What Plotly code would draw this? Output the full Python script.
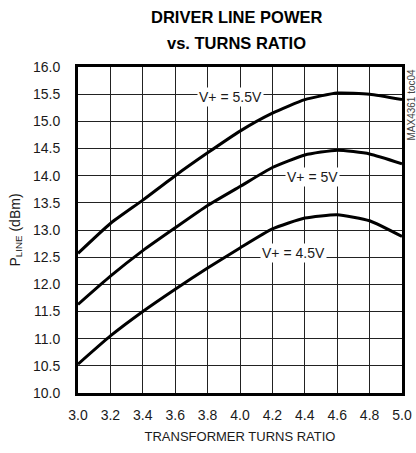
import plotly.graph_objects as go

ratio = [3.0, 3.2, 3.4, 3.6, 3.8, 4.0, 4.2, 4.4, 4.6, 4.8, 5.0]
p_55 = [12.57, 13.12, 13.55, 14.0, 14.42, 14.82, 15.15, 15.40, 15.52, 15.50, 15.40]
p_50 = [11.63, 12.15, 12.62, 13.04, 13.45, 13.80, 14.15, 14.38, 14.47, 14.40, 14.22]
p_45 = [10.53, 11.05, 11.50, 11.91, 12.30, 12.67, 13.02, 13.22, 13.28, 13.17, 12.88]

labels = ["V+ = 5.5V", "V+ = 5V", "V+ = 4.5V"]
label_x = [3.94, 4.45, 4.33]
label_y = [15.45, 13.97, 12.57]

title_lines = ["DRIVER LINE POWER", "vs. TURNS RATIO"]

x_ticks = [3.0, 3.2, 3.4, 3.6, 3.8, 4.0, 4.2, 4.4, 4.6, 4.8, 5.0]
y_ticks = [10.0, 10.5, 11.0, 11.5, 12.0, 12.5, 13.0, 13.5, 14.0, 14.5, 15.0, 15.5, 16.0]

FONT = "Liberation Sans, Arial, sans-serif"
INK = "#1a1a1a"

fig = go.Figure()
for ys in (p_55, p_50, p_45):
    fig.add_trace(go.Scatter(
        x=ratio, y=ys, mode="lines",
        line=dict(color="black", width=3, shape="spline", smoothing=0.5),
        showlegend=False, hoverinfo="skip",
    ))

for txt, lx, ly in zip(labels, label_x, label_y):
    fig.add_annotation(
        x=lx, y=ly, text=txt, showarrow=False,
        font=dict(family=FONT, size=14, color=INK),
        bgcolor="white", borderpad=1,
    )

# two-line bold title above the frame
for i, line in enumerate(title_lines):
    fig.add_annotation(
        x=0.49, xref="paper", y=1, yref="paper",
        text=f"<b>{line}</b>", showarrow=False,
        xanchor="center", yanchor="middle",
        yshift=50 - 26 * i,
        font=dict(family=FONT, size=16.5, color="black"),
    )

fig.add_annotation(
    x=1.0, y=1.0, xref="paper", yref="paper",
    text="MAX4361 toc04", textangle=-90, showarrow=False,
    xanchor="left", yanchor="top", xshift=1,
    font=dict(family=FONT, size=10, color="#444"),
)

fig.update_layout(
    width=416, height=453,
    margin=dict(l=78, r=14, t=67, b=60),
    paper_bgcolor="white", plot_bgcolor="white",
    xaxis=dict(
        range=[3.0, 5.0], tickvals=x_ticks, tickformat=".1f",
        showgrid=True, gridcolor="#222", gridwidth=1,
        showline=True, linecolor="black", linewidth=3, mirror=True,
        ticks="", zeroline=False, automargin=False, ticklabelstandoff=7,
        tickfont=dict(family=FONT, size=14, color=INK),
        title=dict(text="TRANSFORMER TURNS RATIO", standoff=11,
                   font=dict(family=FONT, size=13, color=INK)),
    ),
    yaxis=dict(
        range=[10.0, 16.0], tickvals=y_ticks, tickformat=".1f",
        showgrid=True, gridcolor="#222", gridwidth=1,
        showline=True, linecolor="black", linewidth=3, mirror=True,
        ticks="", zeroline=False, automargin=False, ticklabelstandoff=12,
        tickfont=dict(family=FONT, size=14, color=INK),
        title=dict(text="P<sub>LINE</sub> (dBm)", standoff=10,
                   font=dict(family=FONT, size=14, color=INK)),
    ),
)

fig.write_html("out.html", config={"displayModeBar": False},
               post_script="document.body.style.margin='0';")
